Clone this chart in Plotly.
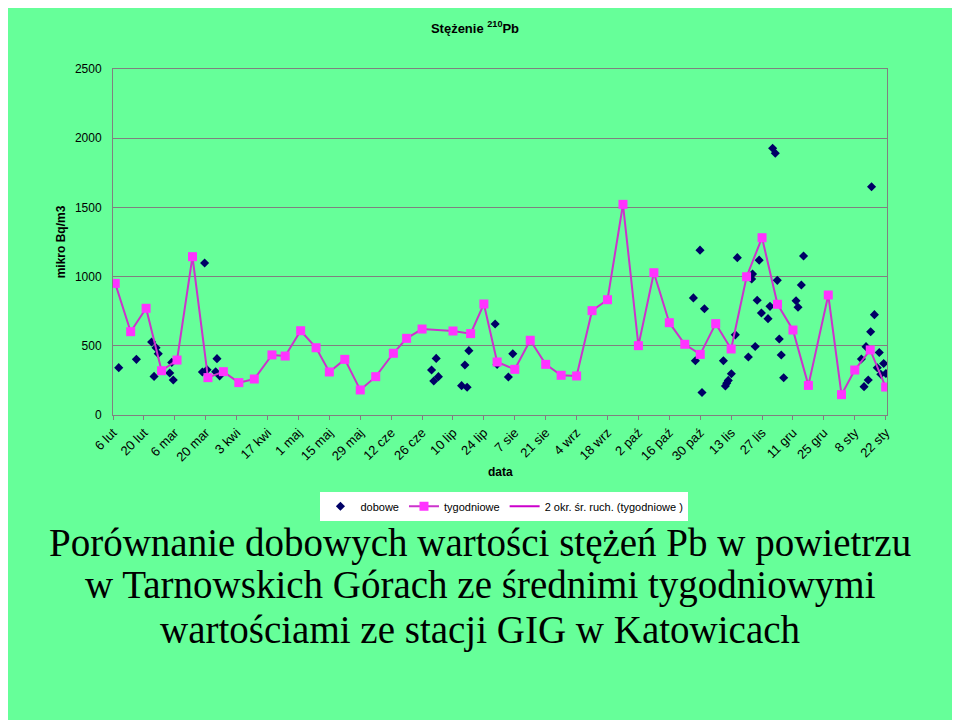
import plotly.graph_objects as go

# osie: dzien 0 = 6 lut
tick_dni = [0, 14, 28, 42, 56, 70, 84, 98, 112, 126, 140, 154, 168, 182, 196, 210,
            224, 238, 252, 266, 280, 294, 308, 322, 336, 350]
tick_opisy = ["6 lut", "20 lut", "6 mar", "20 mar", "3 kwi", "17 kwi", "1 maj", "15 maj",
              "29 maj", "12 cze", "26 cze", "10 lip", "24 lip", "7 sie", "21 sie", "4 wrz",
              "18 wrz", "2 paź", "16 paź", "30 paź", "13 lis", "27 lis", "11 gru", "25 gru",
              "8 sty", "22 sty"]

# srednie tygodniowe (GIG Katowice)
tyg_dzien = [1, 8, 15, 22, 29, 36, 43, 50, 57, 64,
             72, 78, 85, 92, 98, 105, 112, 119, 127, 133,
             140, 154, 162, 168, 174, 182, 189, 196, 203, 210,
             217, 224, 231, 238, 245, 252, 259, 266, 273, 280,
             287, 294, 301, 308, 315, 324, 330, 336, 343, 350]
tyg_wartosc = [951, 602, 771, 320, 397, 1144, 270, 313, 234, 260,
               434, 426, 609, 486, 311, 402, 181, 277, 446, 554,
               621, 607, 588, 802, 383, 330, 540, 366, 287, 282,
               754, 833, 1522, 501, 1028, 667, 511, 438, 660, 477,
               999, 1281, 800, 614, 214, 867, 147, 325, 470, 202]

# pomiary dobowe (Tarnowskie Gory)
dob_dzien = [2.6, 10.6, 17.5, 18.6, 19.5, 20.5, 25.7, 26.6, 27.3, 40.5, 41.5, 42.6, 46.5, 47.1, 48.3,
             144.3, 145.3, 146.4, 147.4, 157.9, 159.4, 160.4, 161.2, 173.1, 174.0, 179.1, 181.1,
             262.9, 263.8, 265.9, 266.8, 267.9, 276.5, 277.4, 278.0, 278.7, 280.1, 281.9, 282.8,
             287.8, 289.3, 289.7, 290.9, 291.8, 292.7, 293.7, 296.7, 297.6, 298.8, 300.0, 300.9,
             301.8, 302.7, 303.8, 309.4, 310.3, 311.8, 312.8,
             339.0, 340.2, 341.1, 342.1, 343.2, 343.6, 344.9, 346.2, 347.1, 347.8, 349.1, 350.1]
dob_wartosc = [342, 402, 527, 279, 486, 443, 303, 380, 253, 311, 1098, 327, 313, 407, 283,
               325, 246, 409, 277, 212, 361, 200, 465, 658, 366, 275, 443,
               846, 392, 1191, 163, 768, 392, 210, 230, 250, 298, 579, 1137,
               419, 983, 1019, 495, 829, 1119, 737, 696, 785, 1927, 1891, 973,
               549, 434, 269, 825, 779, 939, 1149,
               405, 205, 494, 253, 601, 1649, 725, 341, 452, 294, 372, 300]

tlo = "#66FF99"
szary = "#808080"
font_sans = "Liberation Sans, Arial, sans-serif"
font_serif = "Liberation Serif, Times New Roman, serif"

fig = go.Figure()
fig.add_trace(go.Scatter(x=dob_dzien, y=dob_wartosc, mode="markers", name="dobowe",
                         marker=dict(symbol="diamond", size=7, color="#000066")))
fig.add_trace(go.Scatter(x=tyg_dzien, y=tyg_wartosc, mode="lines+markers", name="tygodniowe",
                         line=dict(color="#CC33CC", width=2),
                         marker=dict(symbol="square", size=9, color="#FF33FF")))
# trend (tylko w legendzie)
fig.add_trace(go.Scatter(x=[None], y=[None], mode="lines", name="2 okr. śr. ruch. (tygodniowe )",
                         line=dict(color="#CC00CC", width=2)))

fig.update_xaxes(range=[0, 350.6], tickvals=tick_dni, ticktext=tick_opisy, tickangle=-45,
                 showgrid=False, zeroline=False, showline=True, mirror=True, linecolor=szary,
                 ticks="outside", ticklen=4, tickcolor=szary,
                 tickfont=dict(family=font_sans, size=13, color="black"))
fig.update_yaxes(range=[0, 2500], dtick=500, showgrid=True, gridcolor=szary, gridwidth=1,
                 zeroline=False, showline=True, mirror=True, linecolor=szary,
                 ticklabelstandoff=8,
                 tickfont=dict(family=font_sans, size=12, color="black"),
                 title=dict(text="<b>mikro Bq/m3</b>", standoff=6,
                            font=dict(family=font_sans, size=12, color="black")))

fig.update_layout(
    width=947, height=712,
    paper_bgcolor=tlo, plot_bgcolor=tlo,
    margin=dict(l=105, r=68, t=61, b=305),
    title=dict(text="<b>Stężenie <sup>210</sup>Pb</b>", x=467 / 947, xanchor="center",
               y=1 - 20 / 712, yanchor="middle",
               font=dict(family=font_sans, size=13, color="black")),
    showlegend=True,
    legend=dict(orientation="h", x=0.268, y=-0.222, xanchor="left", yanchor="top",
                bgcolor="white", borderwidth=0,
                font=dict(family=font_sans, size=11, color="black"),
                tracegroupgap=0, itemwidth=30),
    annotations=[
        dict(text="<b>data</b>", xref="paper", yref="paper", x=0.5, y=(415 - 472) / 346,
             xanchor="center", yanchor="middle",
             showarrow=False, font=dict(family=font_sans, size=12, color="black")),
        dict(text="Porównanie dobowych wartości stężeń Pb w powietrzu", xref="paper", yref="paper",
             x=(480 - 113) / 774, y=(415 - 543) / 346, xanchor="center", yanchor="middle",
             showarrow=False, font=dict(family=font_serif, size=39, color="black")),
        dict(text="w Tarnowskich Górach ze średnimi tygodniowymi", xref="paper", yref="paper",
             x=(480 - 113) / 774, y=(415 - 585) / 346, xanchor="center", yanchor="middle",
             showarrow=False, font=dict(family=font_serif, size=39, color="black")),
        dict(text="wartościami ze stacji GIG w Katowicach", xref="paper", yref="paper",
             x=(480 - 113) / 774, y=(415 - 630) / 346, xanchor="center", yanchor="middle",
             showarrow=False, font=dict(family=font_serif, size=39, color="black")),
    ],
)

fig.write_html("out.html")
